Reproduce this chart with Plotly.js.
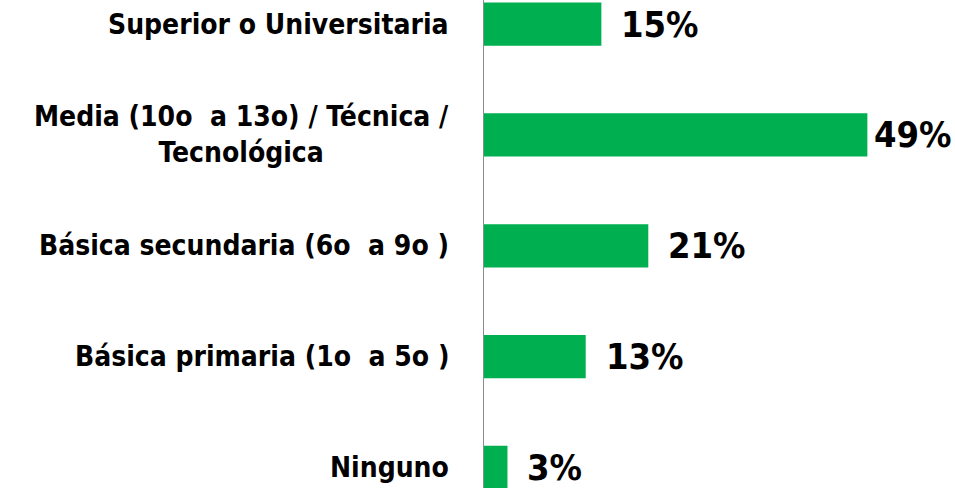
<!DOCTYPE html>
<html>
<head>
<meta charset="utf-8">
<script src="https://cdn.plot.ly/plotly-3.0.1.min.js"></script>
<style>html,body{margin:0;padding:0;background:#fff;}#chart{width:955px;height:488px;}</style>
</head>
<body>
<div id="chart"></div>
<script>
const categories = [
  "Superior o Universitaria",
  "Media (10o\u00a0 a 13o) / Técnica /<br>Tecnológica",
  "Básica secundaria (6o\u00a0 a 9o )",
  "Básica primaria (1o\u00a0 a 5o )",
  "Ninguno"
];
const values = [15, 49, 21, 13, 3];
const labelShift = [18, 5, 18, 18, 18];

const FONT = '"DejaVu Sans Condensed", "Liberation Sans Narrow", Arial, sans-serif';

const trace = {
  type: 'bar',
  orientation: 'h',
  x: values,
  y: categories,
  width: 0.39,
  marker: {color: '#00B050'},
  hoverinfo: 'none'
};

const annotations = [];
categories.forEach((c, i) => {
  annotations.push({
    x: 0, y: c, xref: 'x', yref: 'y',
    text: '<b>' + c + '</b>',
    xanchor: 'right', yanchor: 'middle', align: 'center',
    xshift: -33, showarrow: false,
    font: {family: FONT, size: 28, color: '#000'}
  });
  annotations.push({
    x: values[i], y: c, xref: 'x', yref: 'y',
    text: '<b>' + values[i] + '%</b>',
    xanchor: 'left', yanchor: 'middle',
    xshift: labelShift[i], showarrow: false,
    font: {family: FONT, size: 36, color: '#000'}
  });
});

const layout = {
  width: 955, height: 488,
  margin: {l: 484, r: 0, t: 0, b: 0, pad: 0},
  paper_bgcolor: '#fff', plot_bgcolor: '#fff',
  showlegend: false,
  xaxis: {range: [0, 60.2], showgrid: false, zeroline: false, showticklabels: false, ticks: '', showline: false, fixedrange: true},
  yaxis: {
    type: 'category', categoryorder: 'array', categoryarray: categories,
    range: [4.186, -0.218], showgrid: false, zeroline: false,
    showticklabels: false, ticks: '', showline: true, linecolor: '#8c8c8c', linewidth: 1, fixedrange: true
  },
  annotations: annotations
};

Plotly.newPlot('chart', [trace], layout, {displayModeBar: false, staticPlot: true});
</script>
</body>
</html>
